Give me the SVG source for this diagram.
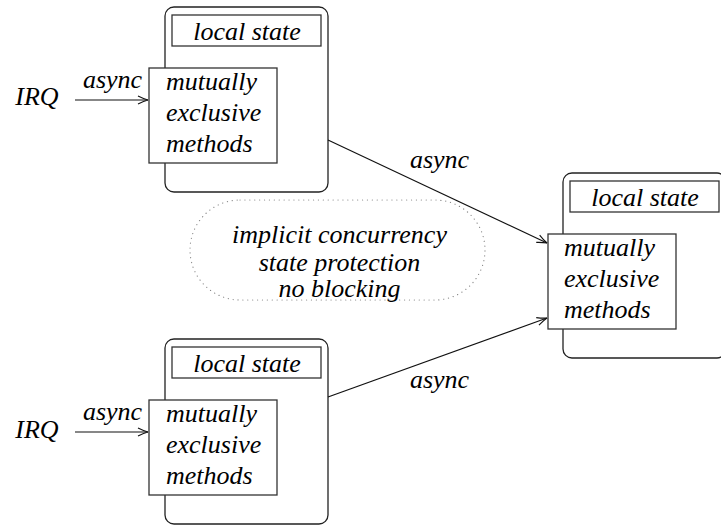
<svg xmlns="http://www.w3.org/2000/svg" width="721" height="525" viewBox="0 0 721 525">
  <style>
    .outer { fill: #fff; stroke: #222; stroke-width: 1.3; }
    .box { fill: #fff; stroke: #333; stroke-width: 1.3; }
    .wire { fill: none; stroke: #111; stroke-width: 1.2; marker-end: url(#open); }
    .cloud { fill: none; stroke: #888; stroke-width: 1.2; stroke-dasharray: 0.1 4.8; stroke-linecap: round; }
  </style>
  <defs>
    <marker id="open" markerUnits="userSpaceOnUse" markerWidth="14" markerHeight="12" viewBox="-12 -6 14 12" refX="0" refY="0" orient="auto">
      <path d="M -10 -4 Q -4 -1 0 0 Q -4 1 -10 4" fill="none" stroke="#111" stroke-width="1.1"/>
    </marker>
  </defs>

  <rect width="721" height="525" fill="#fff"/>

  <!-- shared-state region between the objects -->
  <g id="note">
    <rect class="cloud" x="190" y="200" width="295" height="100" rx="50" ry="50"/>
    <text x="339.5" y="243" text-anchor="middle" font-family="Liberation Serif" font-style="italic" font-size="26">implicit concurrency</text>
    <text x="339.5" y="271" text-anchor="middle" font-family="Liberation Serif" font-style="italic" font-size="26">state protection</text>
    <text x="339.5" y="297" text-anchor="middle" font-family="Liberation Serif" font-style="italic" font-size="26">no blocking</text>
  </g>

  <!-- object with interrupt input, top -->
  <g id="obj-top">
    <rect class="outer" x="165" y="7" width="163" height="185" rx="9"/>
    <rect class="box" x="172" y="15" width="149" height="31"/>
    <text x="247" y="40" text-anchor="middle" font-family="Liberation Serif" font-style="italic" font-size="26">local state</text>
    <rect class="box" x="149" y="68" width="128" height="95"/>
    <text x="166" y="90" font-family="Liberation Serif" font-style="italic" font-size="26">mutually</text>
    <text x="166" y="121" font-family="Liberation Serif" font-style="italic" font-size="26">exclusive</text>
    <text x="166" y="152" font-family="Liberation Serif" font-style="italic" font-size="26">methods</text>
  </g>

  <!-- object with interrupt input, bottom -->
  <g id="obj-bottom" transform="translate(0,332)">
    <rect class="outer" x="165" y="7" width="163" height="185" rx="9"/>
    <rect class="box" x="172" y="15" width="149" height="31"/>
    <text x="247" y="40" text-anchor="middle" font-family="Liberation Serif" font-style="italic" font-size="26">local state</text>
    <rect class="box" x="149" y="68" width="128" height="95"/>
    <text x="166" y="90" font-family="Liberation Serif" font-style="italic" font-size="26">mutually</text>
    <text x="166" y="121" font-family="Liberation Serif" font-style="italic" font-size="26">exclusive</text>
    <text x="166" y="152" font-family="Liberation Serif" font-style="italic" font-size="26">methods</text>
  </g>

  <!-- receiving object, right -->
  <g id="obj-right" transform="translate(398,166)">
    <rect class="outer" x="165" y="7" width="163" height="185" rx="9"/>
    <rect class="box" x="172" y="15" width="149" height="31"/>
    <text x="247" y="40" text-anchor="middle" font-family="Liberation Serif" font-style="italic" font-size="26">local state</text>
    <rect class="box" x="150" y="68" width="128" height="95"/>
    <text x="166" y="90" font-family="Liberation Serif" font-style="italic" font-size="26">mutually</text>
    <text x="166" y="121" font-family="Liberation Serif" font-style="italic" font-size="26">exclusive</text>
    <text x="166" y="152" font-family="Liberation Serif" font-style="italic" font-size="26">methods</text>
  </g>

  <!-- interrupt sources -->
  <g id="irq-top">
    <text x="37" y="105" text-anchor="middle" font-family="Liberation Serif" font-style="italic" font-size="26">IRQ</text>
  </g>
  <g id="irq-bottom">
    <text x="37" y="438" text-anchor="middle" font-family="Liberation Serif" font-style="italic" font-size="26">IRQ</text>
  </g>

  <!-- asynchronous calls -->
  <g id="connectors">
    <line class="wire" x1="75" y1="100" x2="148" y2="100"/>
    <text x="112.5" y="88" text-anchor="middle" font-family="Liberation Serif" font-style="italic" font-size="26">async</text>
    <line class="wire" x1="75" y1="432" x2="148" y2="432"/>
    <text x="112.5" y="420" text-anchor="middle" font-family="Liberation Serif" font-style="italic" font-size="26">async</text>
    <line class="wire" x1="328" y1="140" x2="547" y2="243"/>
    <text x="439.5" y="168" text-anchor="middle" font-family="Liberation Serif" font-style="italic" font-size="26">async</text>
    <line class="wire" x1="328" y1="397" x2="547" y2="318"/>
    <text x="439.5" y="388" text-anchor="middle" font-family="Liberation Serif" font-style="italic" font-size="26">async</text>
  </g>
</svg>
